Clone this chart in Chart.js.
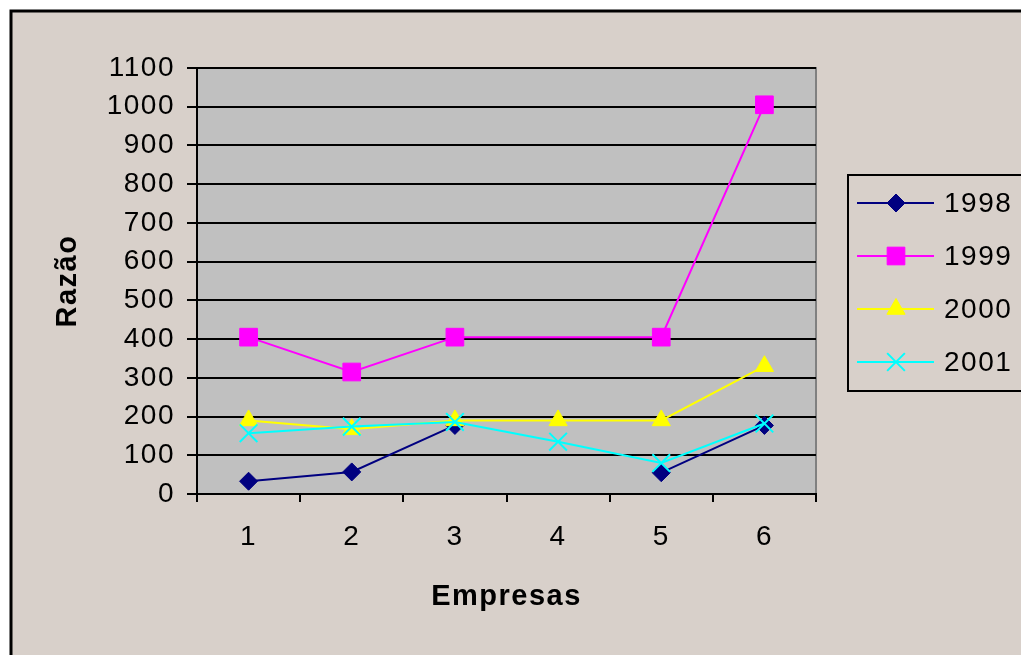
<!DOCTYPE html>
<html>
<head>
<meta charset="utf-8">
<script src="https://cdn.jsdelivr.net/npm/chart.js"></script>
<style>
  html, body { margin: 0; padding: 0; background: #ffffff; }
  #wrap { width: 1021px; height: 655px; }
</style>
</head>
<body>
<div id="wrap"><canvas id="c" width="1021" height="655"></canvas></div>
<script>
// Razão por empresa, 1998–2001
const categories = ['1', '2', '3', '4', '5', '6'];
const seriesNames = ['1998', '1999', '2000', '2001'];
const s1998 = [33, 57, 177, null, 55, 177];
const s1999 = [405, 315, 405, null, 405, 1005];
const s2000 = [190, 167, 190, 190, 190, 330];
const s2001 = [157, 174, 186, 135, 80, 182];
const yTicks = [0, 100, 200, 300, 400, 500, 600, 700, 800, 900, 1000, 1100];

const FONT = '"Liberation Sans", Arial, sans-serif';
const SPACING = '1.5px';

// Chart frame, grey plot area and the letter spacing used by all text
const backdrop = {
  id: 'backdrop',
  beforeDraw(chart) {
    const ctx = chart.ctx;
    const a = chart.chartArea;
    ctx.letterSpacing = SPACING;
    ctx.save();
    ctx.fillStyle = '#ffffff';
    ctx.fillRect(0, 0, chart.width, chart.height);
    ctx.fillStyle = '#d8d0ca';
    ctx.fillRect(11, 11, chart.width, chart.height);
    ctx.strokeStyle = '#000000';
    ctx.lineWidth = 3;
    ctx.strokeRect(11, 11, chart.width + 20, chart.height + 20);
    ctx.fillStyle = '#c0c0c0';
    ctx.fillRect(a.left, a.top, a.right - a.left, a.bottom - a.top);
    ctx.strokeStyle = '#808080';
    ctx.lineWidth = 2;
    ctx.strokeRect(a.left, a.top, a.right - a.left, a.bottom - a.top);
    ctx.restore();
  }
};

// Boxed legend with line + marker samples
const boxLegend = {
  id: 'boxLegend',
  afterDraw(chart) {
    const ctx = chart.ctx;
    ctx.save();
    ctx.strokeStyle = '#000000';
    ctx.lineWidth = 2;
    ctx.strokeRect(848, 175, 200, 216);
    chart.data.datasets.forEach((ds, i) => {
      const y = 203 + i * 53;
      ctx.strokeStyle = ds.borderColor;
      ctx.lineWidth = 2;
      ctx.beginPath();
      ctx.moveTo(857, y);
      ctx.lineTo(934, y);
      ctx.stroke();
      ctx.fillStyle = ds.pointBackgroundColor;
      ctx.strokeStyle = ds.pointBorderColor;
      ctx.lineWidth = ds.pointBorderWidth;
      Chart.helpers.drawPoint(ctx, {
        pointStyle: ds.pointStyle,
        radius: ds.pointRadius,
        borderWidth: ds.pointBorderWidth,
        rotation: 0
      }, 896, y);
      ctx.fillStyle = '#000000';
      ctx.font = '28px ' + FONT;
      ctx.letterSpacing = SPACING;
      ctx.textBaseline = 'middle';
      ctx.textAlign = 'left';
      ctx.fillText(ds.label, 944, y + 1);
    });
    ctx.restore();
  }
};

function series(label, data, color, style, radius, order, extra) {
  return Object.assign({
    label: label,
    data: data,
    borderColor: color,
    backgroundColor: color,
    borderWidth: 2,
    pointStyle: style,
    pointRadius: radius,
    pointHoverRadius: radius,
    pointBackgroundColor: color,
    pointBorderColor: color,
    pointBorderWidth: 1,
    tension: 0,
    order: order
  }, extra || {});
}

new Chart(document.getElementById('c'), {
  type: 'line',
  data: {
    labels: categories,
    datasets: [
      series(seriesNames[0], s1998, '#000080', 'rectRot', 9, 4, { spanGaps: false }),
      series(seriesNames[1], s1999, '#ff00ff', 'rect', 12.5, 3, { spanGaps: true }),
      series(seriesNames[2], s2000, '#ffff00', 'triangle', 10.5, 2),
      series(seriesNames[3], s2001, '#00ffff', 'crossRot', 12.5, 1, { pointBorderWidth: 2 })
    ]
  },
  options: {
    responsive: false,
    animation: false,
    devicePixelRatio: 1,
    layout: { padding: { top: 68, right: 205, left: 0, bottom: 0 } },
    plugins: {
      legend: { display: false },
      tooltip: { enabled: false }
    },
    scales: {
      x: {
        offset: true,
        grid: {
          display: true,
          offset: true,
          drawOnChartArea: false,
          color: '#000000',
          lineWidth: 2,
          tickLength: 8
        },
        border: { display: true, color: '#000000', width: 2 },
        ticks: {
          color: '#000000',
          font: { family: FONT, size: 28 },
          padding: 18,
          maxRotation: 0
        },
        title: {
          display: true,
          text: 'Empresas',
          color: '#000000',
          font: { family: FONT, size: 29, weight: 'bold' },
          padding: { top: 0, bottom: 41 }
        },
        afterFit(scale) { scale.height = 161; }
      },
      y: {
        min: 0,
        max: 1100,
        afterBuildTicks(scale) { scale.ticks = yTicks.map(v => ({ value: v })); },
        grid: {
          color: '#000000',
          lineWidth: 2,
          tickLength: 10
        },
        border: { display: true, color: '#000000', width: 2 },
        ticks: {
          color: '#000000',
          font: { family: FONT, size: 28 },
          padding: 12,
          callback: (v) => String(v)
        },
        title: {
          display: true,
          text: 'Razão',
          color: '#000000',
          font: { family: FONT, size: 29, weight: 'bold' },
          padding: { top: 51, bottom: 0 }
        },
        afterFit(scale) { scale.width = 197; }
      }
    }
  },
  plugins: [backdrop, boxLegend]
});
</script>
</body>
</html>
